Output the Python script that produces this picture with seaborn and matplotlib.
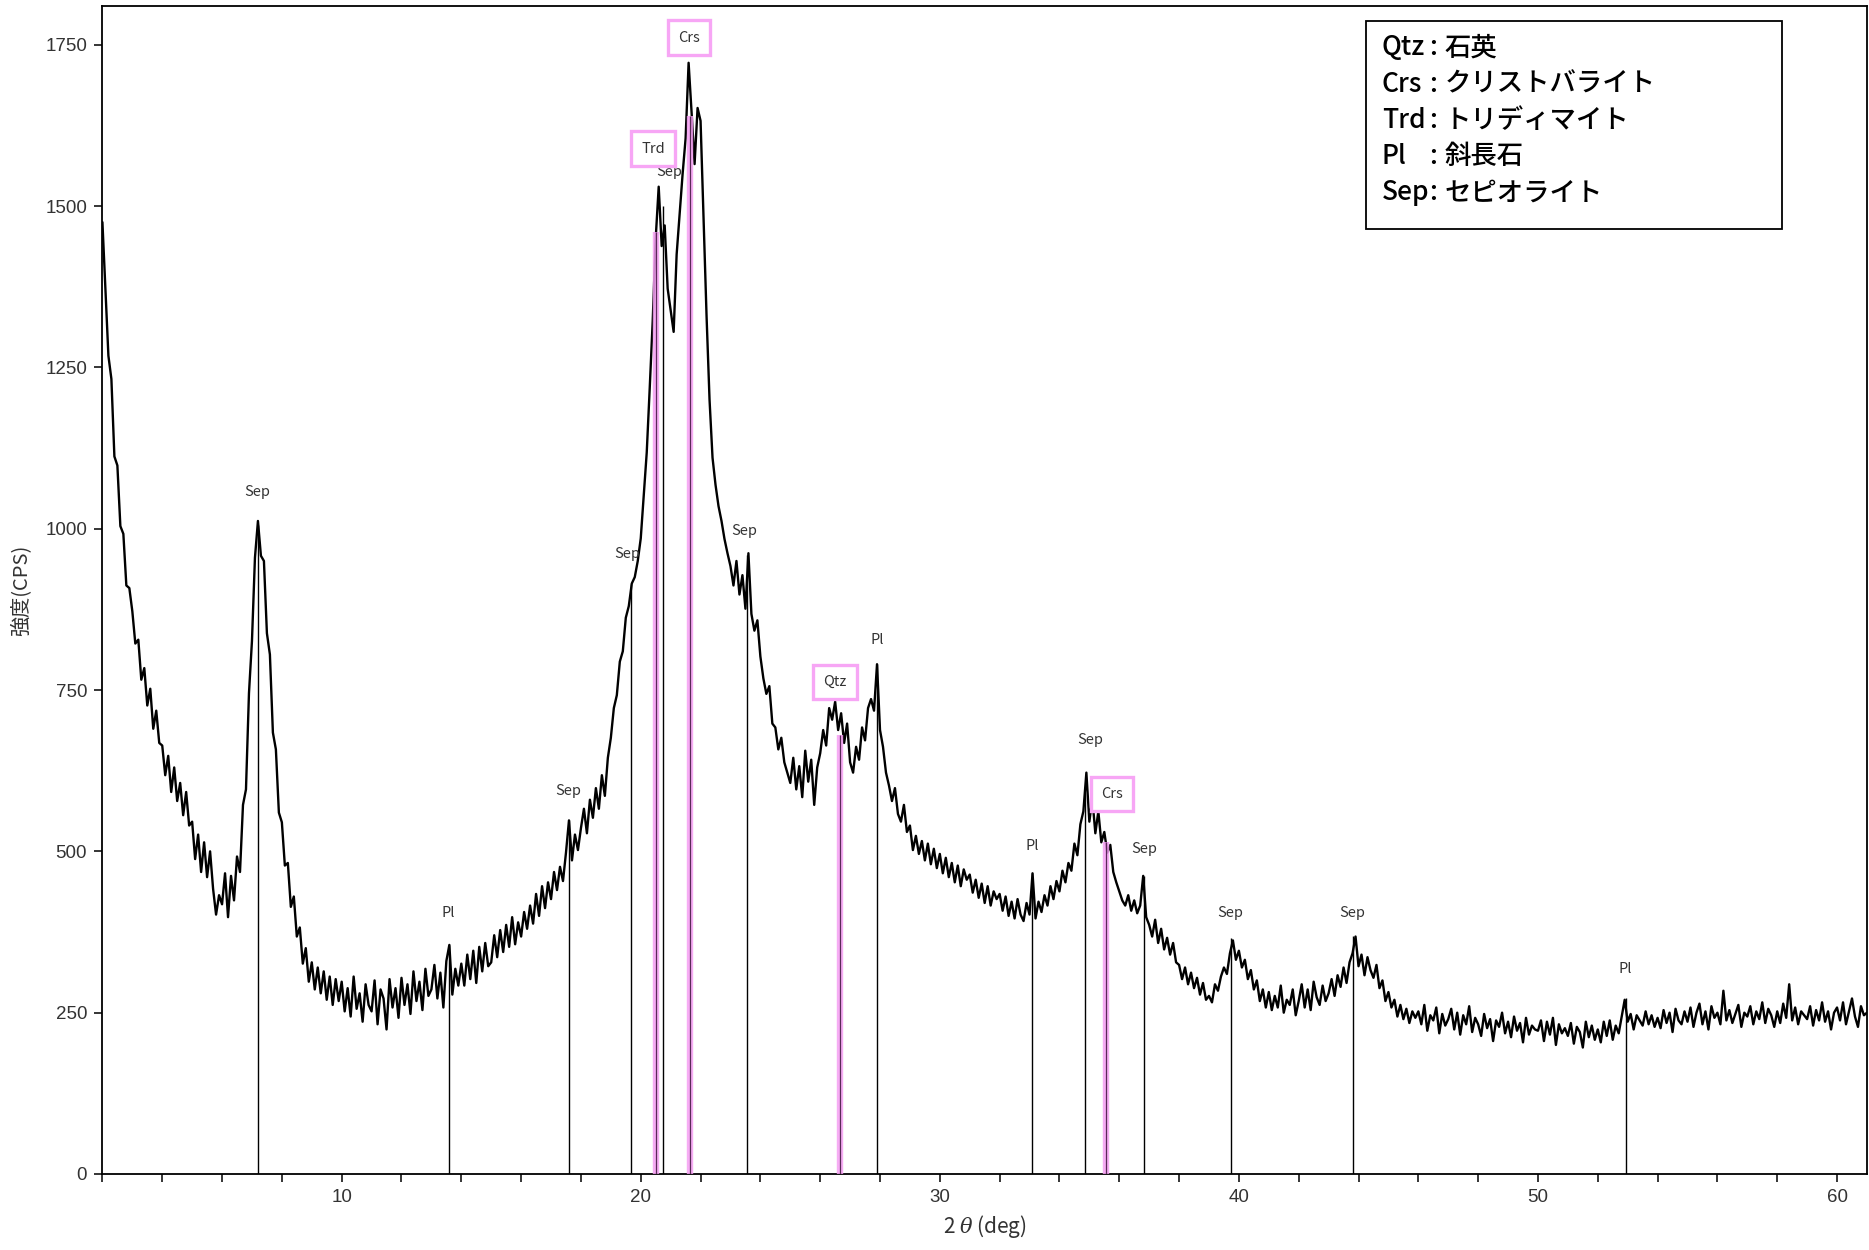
import numpy as np
import pandas as pd
import matplotlib
matplotlib.use("Agg")
import matplotlib.pyplot as plt
from matplotlib.patches import Rectangle
import seaborn as sns

# ---------------- data ----------------
two_theta_start = 2.0
two_theta_step = 0.1
intensity = [
    1475, 1372, 1268, 1232, 1112, 1098, 1004, 992, 912, 908,   # 2
    872, 822, 828, 766, 784, 726, 752, 690, 718, 668,          # 3
    664, 618, 648, 592, 630, 578, 606, 556, 592, 540,          # 4
    546, 488, 526, 468, 514, 460, 500, 442, 402, 432,          # 5
    418, 466, 398, 462, 424, 492, 468, 572, 596, 745,          # 6
    826, 955, 1012, 958, 950, 838, 805, 684, 658, 560,         # 7
    545, 478, 482, 414, 430, 368, 382, 326, 350, 298,          # 8
    328, 286, 320, 280, 314, 270, 306, 262, 302, 268,          # 9
    298, 252, 288, 244, 306, 256, 280, 236, 294, 262,          # 10
    252, 300, 232, 286, 272, 224, 302, 258, 288, 242,          # 11
    304, 262, 294, 248, 314, 268, 298, 254, 318, 276,          # 12
    286, 324, 272, 312, 258, 330, 355, 278, 318, 292,          # 13
    326, 292, 340, 302, 346, 296, 352, 314, 358, 322,          # 14
    328, 370, 336, 378, 344, 386, 352, 398, 356, 390,          # 15
    368, 406, 380, 416, 388, 434, 400, 446, 412, 452,          # 16
    426, 468, 440, 476, 454, 498, 548, 486, 526, 502,          # 17
    536, 566, 528, 580, 552, 598, 566, 618, 586, 645,          # 18
    676, 722, 742, 794, 810, 862, 880, 915, 925, 950,          # 19
    985, 1052, 1118, 1218, 1322, 1450, 1530, 1438, 1470, 1372, # 20
    1338, 1305, 1425, 1488, 1550, 1605, 1722, 1645, 1565, 1652,# 21
    1632, 1480, 1330, 1200, 1110, 1068, 1035, 1012, 984, 962,  # 22
    942, 912, 950, 898, 928, 876, 962, 868, 842, 858,          # 23
    802, 768, 744, 756, 698, 692, 658, 676, 638, 622,          # 24
    606, 645, 596, 632, 584, 656, 608, 642, 572, 630,          # 25
    652, 688, 664, 722, 704, 732, 688, 714, 668, 698,          # 26
    638, 622, 662, 642, 692, 672, 722, 736, 718, 790,          # 27
    688, 662, 622, 602, 578, 598, 558, 546, 572, 530,          # 28
    540, 502, 524, 496, 516, 486, 512, 480, 504, 474,          # 29
    496, 466, 490, 460, 482, 452, 478, 446, 472, 456,          # 30
    464, 436, 456, 428, 450, 420, 446, 416, 438, 426,          # 31
    434, 408, 430, 400, 422, 396, 426, 402, 392, 420,          # 32
    402, 466, 396, 422, 406, 432, 416, 446, 426, 454,          # 33
    438, 470, 452, 482, 470, 512, 494, 542, 562, 622,          # 34
    546, 582, 528, 562, 514, 530, 498, 510, 468, 452,          # 35
    438, 424, 416, 432, 408, 424, 404, 416, 462, 398,          # 36
    386, 368, 394, 358, 380, 348, 366, 340, 358, 328,          # 37
    324, 302, 320, 294, 312, 288, 304, 278, 296, 270,          # 38
    276, 266, 294, 284, 306, 320, 310, 342, 362, 332,          # 39
    346, 320, 332, 302, 316, 286, 300, 268, 286, 258,          # 40
    282, 254, 276, 258, 292, 250, 270, 262, 286, 246,          # 41
    268, 294, 258, 286, 254, 298, 274, 262, 292, 268,          # 42
    280, 302, 276, 308, 290, 320, 296, 328, 342, 368,          # 43
    322, 340, 308, 336, 316, 304, 324, 288, 300, 268,          # 44
    282, 258, 270, 244, 262, 240, 256, 234, 252, 242,          # 45
    252, 232, 262, 222, 246, 238, 258, 218, 248, 230,          # 46
    240, 256, 224, 250, 216, 246, 232, 260, 220, 242,          # 47
    232, 214, 248, 226, 240, 206, 238, 228, 250, 218,          # 48
    236, 212, 244, 222, 234, 204, 242, 216, 230, 224,          # 49
    222, 238, 206, 236, 216, 242, 200, 232, 218, 226,          # 50
    214, 234, 202, 228, 220, 196, 236, 212, 230, 208,          # 51
    224, 204, 236, 214, 238, 208, 230, 218, 244, 270,          # 52
    236, 248, 224, 246, 238, 230, 252, 232, 246, 228,          # 53
    242, 226, 254, 234, 250, 220, 256, 238, 232, 252,          # 54
    236, 258, 228, 250, 264, 232, 252, 224, 260, 242,          # 55
    250, 232, 284, 238, 254, 234, 248, 262, 228, 250,          # 56
    244, 260, 232, 252, 240, 266, 234, 256, 246, 228,          # 57
    252, 234, 264, 242, 294, 238, 258, 232, 252, 246,          # 58
    240, 260, 230, 254, 238, 266, 236, 252, 224, 250,          # 59
    258, 238, 266, 232, 252, 272, 244, 228, 260, 246,          # 60
    250,                                                        # 61
]

# black reference lines (Sep / Pl)
peak_pos = [7.2, 13.6, 17.6, 19.68, 20.75, 23.55, 27.9, 33.08, 34.87, 36.84, 39.72, 43.82, 52.93]
peak_top = [1005, 355, 548, 915, 1500, 960, 790, 467, 600, 462, 365, 369, 272]
peak_name = ["Sep", "Pl", "Sep", "Sep", "Sep", "Sep", "Pl", "Pl", "Sep", "Sep", "Sep", "Sep", "Pl"]
peak_label_x = [7.17, 13.58, 17.56, 19.55, 20.94, 23.45, 27.9, 33.08, 35.03, 36.82, 39.72, 43.78, 52.93]
peak_label_y = [1057, 405, 593, 961, 1552, 996, 828, 508, 673, 503, 405, 405, 318]

# pink highlighted lines (Trd / Crs / Qtz)
hl_pos = [20.51, 21.65, 26.66, 35.54]
hl_top = [1460, 1640, 680, 515]
hl_name = ["Trd", "Crs", "Qtz", "Crs"]
hl_label_x = [20.41, 21.62, 26.49, 35.77]
hl_label_y = [1589, 1761, 762, 589]

legend_abbr = ["Qtz", "Crs", "Trd", "Pl", "Sep"]
legend_name = ["石英", "クリストバライト", "トリディマイト", "斜長石", "セピオライト"]

x_ticks = [2, 4, 6, 8, 10, 12, 14, 16, 18, 20, 22, 24, 26, 28, 30, 32, 34, 36, 38,
           40, 42, 44, 46, 48, 50, 52, 54, 56, 58, 60]
x_tick_labels = ["" if t % 10 else str(t) for t in x_ticks]
y_ticks = [0, 250, 500, 750, 1000, 1250, 1500, 1750]

# ---------------- build table ----------------
n = len(intensity)
two_theta = np.round(two_theta_start + two_theta_step * np.arange(n), 2)
df = pd.DataFrame({"two_theta": two_theta, "cps": intensity})

# ---------------- plotting ----------------
sns.set_theme(style="white")
JP = ["Noto Sans CJK JP", "DejaVu Sans"]
plt.rcParams["font.family"] = ["Liberation Sans", "DejaVu Sans"]
plt.rcParams["mathtext.fontset"] = "dejavuserif"

fig = plt.figure(figsize=(18.69, 12.5), dpi=100)
ax = fig.add_axes([0.0548, 0.0608, 0.9441, 0.9344])

# reference stick lines
ax.vlines(peak_pos, 0, peak_top, colors="black", linewidth=1.0, zorder=2)

sns.lineplot(data=df, x="two_theta", y="cps", ax=ax, color="black",
             linewidth=1.7, estimator=None, zorder=3)

# pink highlight lines
ax.vlines(hl_pos, 0, hl_top, colors="#f59ef3", linewidth=4.6, alpha=0.85, zorder=4)
ax.vlines(hl_pos, 0, hl_top, colors="#5a2a58", linewidth=0.9, zorder=5)

for x, y, s in zip(peak_label_x, peak_label_y, peak_name):
    ax.text(x, y, s, ha="center", va="center", fontsize=10.5, color="#333333",
            family=JP, zorder=6)

for x, y, s in zip(hl_label_x, hl_label_y, hl_name):
    ax.text(x, y, s, ha="center", va="center", fontsize=10.5, color="#333333",
            family=JP, zorder=6,
            bbox=dict(boxstyle="square,pad=0.7", facecolor="white",
                      edgecolor="#f7a6f5", linewidth=2.4))

# legend box
ax.add_patch(Rectangle((0.716, 0.809), 0.236, 0.178, transform=ax.transAxes,
                       facecolor="white", edgecolor="black", linewidth=1.3, zorder=7))
leg_y = [0.9643, 0.9332, 0.9021, 0.8710, 0.8399]
for yy, ab, nm in zip(leg_y, legend_abbr, legend_name):
    ax.text(0.7251, yy, ab, transform=ax.transAxes, ha="left", va="center",
            fontsize=19, family=JP, weight="medium", color="black", zorder=8)
    ax.text(0.7540, yy, ":", transform=ax.transAxes, ha="center", va="center",
            fontsize=19, family=JP, weight="medium", color="black", zorder=8)
    ax.text(0.7605, yy, nm, transform=ax.transAxes, ha="left", va="center",
            fontsize=19, family=JP, weight="medium", color="black", zorder=8)

ax.set_xlim(2, 61)
ax.set_ylim(0, 1810)
ax.set_xticks(x_ticks)
ax.set_xticklabels(x_tick_labels)
ax.set_yticks(y_ticks)
ax.tick_params(axis="both", which="major", direction="out", length=6, width=1.1,
               colors="black", labelcolor="#333333", labelsize=13.5, pad=5,
               bottom=True, left=True)

for sp in ax.spines.values():
    sp.set_color("black")
    sp.set_linewidth(1.3)

ax.set_xlabel(r"2 $\theta$ (deg)", fontsize=15, family=JP, color="#333333", labelpad=5)
ax.set_ylabel("強度(CPS)", fontsize=14.5, family=JP, color="#333333", labelpad=10)
ax.grid(False)

fig.savefig("out.png", dpi=100)
